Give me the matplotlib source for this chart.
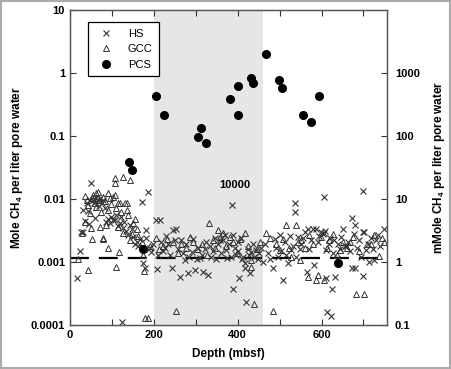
import matplotlib
matplotlib.use('Agg')
import matplotlib.pyplot as plt
from matplotlib.patches import Rectangle

plt.rcParams['font.family'] = ['Liberation Sans', 'DejaVu Sans']
plt.rcParams['mathtext.fontset'] = 'custom'
plt.rcParams['mathtext.rm'] = 'Liberation Sans:bold'
plt.rcParams['mathtext.bf'] = 'Liberation Sans:bold'

# HS (crosses)
hs_depth = [18, 24, 26, 31, 32, 35, 40, 42, 45, 50,
            48, 55, 58, 60, 62, 66, 70, 72, 76, 80,
            84, 87, 90, 95, 98, 102, 107, 110, 114, 119,
            122, 124, 126, 130, 134, 139, 143, 147, 151, 155,
            159, 163, 167, 171, 175, 176, 180, 181, 182, 186,
            190, 194, 198, 206, 208, 211, 214, 218, 222, 226,
            230, 234, 238, 244, 246, 250, 254, 258, 262, 266,
            270, 274, 278, 281, 285, 290, 294, 298, 302, 306,
            310, 314, 317, 321, 325, 329, 333, 337, 341, 345,
            349, 353, 357, 361, 365, 369, 373, 375, 379, 383,
            387, 389, 389, 393, 397, 401, 402, 403, 407, 411,
            413, 417, 417, 421, 425, 428, 430, 433, 436, 440,
            444, 448, 452, 456, 460, 466, 472, 478, 484, 488,
            492, 496, 500, 504, 508, 512, 516, 519, 524, 528,
            532, 537, 537, 540, 543, 548, 552, 556, 560, 565,
            567, 571, 575, 579, 583, 587, 591, 595, 599, 603,
            605, 607, 609, 610, 611, 613, 617, 620, 623, 625,
            627, 630, 633, 636, 639, 643, 647, 651, 655, 659,
            663, 667, 673, 673, 677, 679, 681, 685, 690, 694,
            698, 698, 700, 702, 706, 710, 713, 718, 722, 726,
            730, 734, 740, 748]
hs_ch4 = [0.00056, 0.0015, 0.003, 0.003, 0.0067, 0.0045, 0.0086, 0.0065, 0.004, 0.018,
          0.0095, 0.0098, 0.0088, 0.005, 0.0105, 0.0092, 0.0078, 0.0102, 0.0085, 0.0095,
          0.0072, 0.0044, 0.0048, 0.0042, 0.0052, 0.0047, 0.0046, 0.0056, 0.0038, 0.0042,
          0.0051, 0.00011, 0.0035, 0.0044, 0.0031, 0.0027, 0.0039, 0.0033, 0.0025, 0.0019,
          0.0021, 0.0018, 0.0023, 0.009, 0.00095, 0.0016, 0.0008, 0.0024, 0.0032, 0.013,
          0.0017, 0.00146, 0.0019, 0.0046, 0.00077, 0.0013, 0.0046, 0.0021, 0.0015, 0.0017,
          0.0026, 0.0019, 0.0013, 0.0008, 0.0032, 0.0022, 0.0034, 0.0016, 0.00058, 0.0022,
          0.0014, 0.00108, 0.0019, 0.00067, 0.0012, 0.00146, 0.0023, 0.00075, 0.0011, 0.0017,
          0.00115, 0.0013, 0.0007, 0.0016, 0.0021, 0.00062, 0.0018, 0.0012, 0.0015, 0.0024,
          0.0011, 0.0019, 0.0022, 0.0014, 0.0022, 0.0027, 0.00155, 0.00115, 0.0019, 0.0012,
          0.008, 0.0027, 0.00038, 0.0017, 0.0013, 0.0021, 0.0015, 0.00056, 0.0024, 0.0011,
          0.00122, 0.00095, 0.0008, 0.00023, 0.0016, 0.0013, 0.00067, 0.00146, 0.0019, 0.0012,
          0.00155, 0.0011, 0.0014, 0.0017, 0.001, 0.0019, 0.0014, 0.0011, 0.0008, 0.0023,
          0.0017, 0.0012, 0.0027, 0.0015, 0.00052, 0.0021, 0.0013, 0.00096, 0.0026, 0.00155,
          0.0018, 0.0085, 0.0063, 0.0012, 0.0025, 0.0016, 0.0019, 0.0024, 0.003, 0.0007,
          0.0034, 0.0016, 0.0022, 0.0034, 0.0009, 0.0034, 0.0021, 0.0026, 0.003, 0.0028,
          0.0109, 0.0029, 0.0031, 0.00055, 0.00155, 0.000162, 0.0019, 0.0024, 0.00014, 0.00038,
          0.0014, 0.0022, 0.00058, 0.0011, 0.0019, 0.0016, 0.0025, 0.0034, 0.0018, 0.0018,
          0.0021, 0.0015, 0.0008, 0.005, 0.0028, 0.0008, 0.0039, 0.0017, 0.0022, 0.0012,
          0.003, 0.0006, 0.0136, 0.003, 0.00155, 0.0019, 0.001, 0.0024, 0.0016, 0.00108,
          0.0022, 0.0027, 0.0018, 0.0033]

# GCC (open triangles)
gcc_depth = [20, 28, 36, 36, 40, 43, 44, 48, 50, 52,
             52, 56, 60, 63, 63, 67, 70, 71, 75, 79,
             79, 80, 83, 87, 91, 91, 91, 95, 99, 103,
             107, 107, 107, 110, 111, 115, 115, 117, 119, 123,
             127, 127, 131, 135, 135, 139, 143, 143, 147, 151,
             155, 159, 163, 171, 175, 176, 180, 186, 190, 206,
             212, 222, 232, 246, 254, 258, 266, 278, 286, 294,
             304, 316, 326, 332, 341, 347, 353, 359, 365, 372,
             381, 389, 398, 406, 417, 424, 433, 433, 440, 447,
             454, 468, 476, 484, 492, 500, 508, 516, 522, 528,
             538, 544, 548, 552, 560, 567, 571, 580, 587, 592,
             598, 605, 612, 619, 628, 636, 643, 652, 660, 668,
             676, 683, 690, 701, 709, 718, 726, 736, 744, 748]
gcc_ch4 = [0.0011, 0.0029, 0.0044, 0.011, 0.0095, 0.00075, 0.008, 0.006, 0.0035, 0.0023,
           0.0105, 0.0116, 0.0088, 0.0123, 0.0076, 0.013, 0.0098, 0.0036, 0.0063, 0.0109,
           0.0024, 0.0023, 0.0092, 0.0039, 0.0123, 0.0067, 0.0017, 0.0105, 0.0082, 0.0109,
           0.0214, 0.018, 0.0116, 0.00084, 0.0072, 0.0085, 0.0036, 0.00146, 0.0085, 0.0062,
           0.0227, 0.0029, 0.0085, 0.0085, 0.0067, 0.0055, 0.02, 0.0022, 0.0028, 0.0042,
           0.0049, 0.0034, 0.0026, 0.0021, 0.0013, 0.00073, 0.00013, 0.00013, 0.0018, 0.0024,
           0.0016, 0.0018, 0.0023, 0.0021, 0.00017, 0.0014, 0.0019, 0.0017, 0.0025, 0.0021,
           0.0016, 0.0019, 0.0013, 0.0042, 0.0022, 0.0017, 0.0032, 0.0025, 0.0029, 0.0018,
           0.0025, 0.0021, 0.0014, 0.0023, 0.0029, 0.0018, 0.00108, 0.00082, 0.00022, 0.0016,
           0.0021, 0.0029, 0.0024, 0.00017, 0.0019, 0.00155, 0.0023, 0.0039, 0.0017, 0.00122,
           0.0039, 0.0021, 0.00108, 0.0022, 0.0017, 0.00058, 0.0027, 0.0019, 0.00052, 0.00062,
           0.0025, 0.00052, 0.0017, 0.0022, 0.0028, 0.0013, 0.00155, 0.0021, 0.0017, 0.0021,
           0.0025, 0.00031, 0.0015, 0.00031, 0.0019, 0.0019, 0.0027, 0.00125, 0.0024, 0.0021]

# PCS (filled circles)
pcs_depth = [140, 148, 175, 205, 225, 305, 312, 324, 382, 401,
             402, 431, 437, 467, 498, 506, 556, 575, 594, 639]
pcs_ch4 = [0.0387, 0.0292, 0.0016, 0.427, 0.218, 0.0975, 0.135, 0.078, 0.387, 0.63,
           0.218, 0.84, 0.70, 2.0, 0.78, 0.57, 0.218, 0.169, 0.427, 0.00095]

saturation = 0.00115      # dashed line
shade_range = (200, 460)  # grey band (mbsf)

fig = plt.figure(figsize=(4.51, 3.69), dpi=100)
ax = fig.add_axes([0.155, 0.119, 0.702, 0.854])

ink = '#333333'
ax.axvspan(*shade_range, color='#e6e6e6', zorder=0, lw=0)
ax.axhline(saturation, color='black', lw=1.6, dashes=(8.5, 4.5), zorder=2)
ax.plot(hs_depth, hs_ch4, 'x', color=ink, ms=4.5, mew=0.8, label='HS', zorder=3)
ax.plot(gcc_depth, gcc_ch4, '^', mfc='none', mec=ink, ms=4.5, mew=0.7, label='GCC', zorder=3)
ax.plot(pcs_depth, pcs_ch4, 'o', color='black', ms=5.5, label='PCS', zorder=4)

ax.text(393, 0.0165, '10000', fontsize=8, fontweight='bold', ha='center', va='center')

ax.set_yscale('log')
ax.set_xlim(0, 755)
ax.set_ylim(0.0001, 10)
ax.set_xticks(range(0, 800, 100))
ax.set_xticklabels(['0', '', '200', '', '400', '', '600', ''])
ax.set_yticks([0.0001, 0.001, 0.01, 0.1, 1, 10])
ax.set_yticklabels(['0.0001', '0.001', '0.01', '0.1', '1', '10'])
ax.minorticks_off()
ax.tick_params(direction='in', top=True, length=4, width=0.8, colors=ink,
               labelcolor='black', labelsize=8)
for lbl in ax.get_xticklabels() + ax.get_yticklabels():
    lbl.set_fontweight('bold')
for sp in ax.spines.values():
    sp.set_color('#555555')
    sp.set_linewidth(1.0)

ax.set_xlabel('Depth (mbsf)', fontsize=8.5, fontweight='bold', labelpad=6)
ax.set_ylabel('Mole CH$_4$ per liter pore water', fontsize=8.5, fontweight='bold', labelpad=4)

ax2 = ax.twinx()
ax2.set_yscale('log')
ax2.set_ylim(0.1, 10000)
ax2.set_yticks([0.1, 1, 10, 100, 1000])
ax2.set_yticklabels(['0.1', '1', '10', '100', '1000'])
ax2.minorticks_off()
ax2.tick_params(direction='in', length=4, width=0.8, colors=ink,
                labelcolor='black', labelsize=8, pad=6)
for lbl in ax2.get_yticklabels():
    lbl.set_fontweight('bold')
for sp in ax2.spines.values():
    sp.set_color('#555555')
ax2.set_ylabel('mMole CH$_4$ per liter pore water', fontsize=8.5, fontweight='bold', labelpad=8)

leg = ax.legend(loc='upper left', bbox_to_anchor=(0.057, 0.962), borderaxespad=0,
                fancybox=False, framealpha=1, edgecolor='black', fontsize=8,
                handletextpad=1.0, borderpad=0.6, labelspacing=0.5)
leg.get_frame().set_linewidth(0.9)

fig.patches.append(Rectangle((0.002, 0.003), 0.996, 0.994, transform=fig.transFigure,
                             fill=False, edgecolor='#aaaaaa', lw=1.5))

fig.savefig('out.png', dpi=100)
